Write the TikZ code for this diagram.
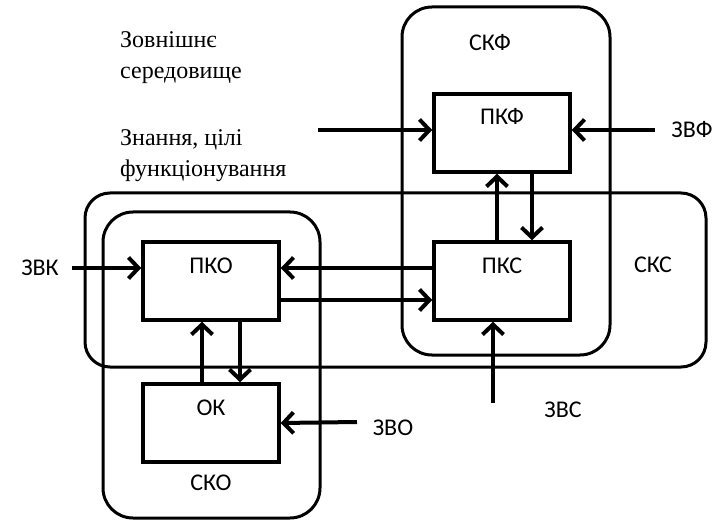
\documentclass[tikz,border=0pt]{standalone}
\usepackage{fontspec}
\setmainfont{Liberation Serif}
\newfontfamily\lblfont{Carlito}
\usetikzlibrary{arrows.meta,positioning}
\tikzset{blk/.style={draw,line width=3.5pt,minimum width=136pt,minimum height=78pt,inner sep=0pt},
  cont/.style={draw,line width=3pt,rounded corners=30pt,inner sep=0pt},
  arr/.style={line width=4pt,-{Straight Barb[length=10pt,width=21pt]}},
  lbl/.style={font=\lblfont\fontsize{24}{28}\selectfont,inner sep=0pt},
  envtxt/.style={font=\fontsize{24}{31}\selectfont,align=left,anchor=north west,inner sep=0pt}}

\begin{document}
\begin{tikzpicture}[x=1pt,y=-1pt]
\useasboundingbox (0,0) rectangle (712,521);
% containers
\node[cont,minimum width=208pt,minimum height=348pt] (skf) at (506,181) {};
\node[cont,rounded corners=25pt,minimum width=621pt,minimum height=174pt] (sks) at (395.5,280) {};
\node[cont,minimum width=217pt,minimum height=306pt] (sko) at (211.5,365) {};
% blocks
\node[blk] (pkf) at (502,133) {}; \node[blk] (pkc) at (502,281) {};
\node[blk] (pko) at (211,281) {}; \node[blk] (ok) at (211,423) {};
\node[lbl] (pkf-t) at ([yshift=-24pt]pkf.north) {ПКФ}; \node[lbl] (pkc-t) at ([yshift=-26pt]pkc.north) {ПКС};
\node[lbl] (pko-t) at ([yshift=-26pt]pko.north) {ПКО}; \node[lbl] (ok-t) at ([yshift=-26pt]ok.north) {ОК};
\node[lbl] (skf-t) at (490,43) {СКФ}; \node[lbl] (sks-t) at (653,265) {СКС}; \node[lbl] (sko-t) at (211,483) {СКО};
\node[lbl] (zvf) at (692,130) {ЗВФ}; \node[lbl] (zvk) at (40,268) {ЗВК};
\node[lbl] (zvo) at (393,428) {ЗВО}; \node[lbl] (zvs) at (563,410) {ЗВС};
\node[envtxt] (env) at (120,31) {Зовнішнє\\середовище};
\node[envtxt] (goal) at (120,129) {Знання, цілі\\функціонування};
% inputs
\coordinate (goal-e) at (318,130); \coordinate (zvf-e) at (655,130); \coordinate (zvk-e) at (72,268);
\coordinate (zvo-e) at (357,422); \coordinate (zvs-e) at (493,403);
\draw[arr] (goal-e) -- ([yshift=3pt]pkf.west); \draw[arr] (zvf-e) -- ([yshift=3pt]pkf.east);
\draw[arr] (zvk-e) -- ([yshift=13pt]pko.west); \draw[arr] (zvo-e) -- (ok.east);
\draw[arr] (zvs-e) -- ([xshift=-9pt]pkc.south);
% links
\draw[arr] ([xshift=-5pt]pkc.north) -- ([xshift=-5pt]pkf.south); \draw[arr] ([xshift=30pt]pkf.south) -- ([xshift=30pt]pkc.north);
\draw[arr] ([yshift=13pt]pkc.west) -- ([yshift=13pt]pko.east); \draw[arr] ([yshift=-19pt]pko.east) -- ([yshift=-19pt]pkc.west);
\draw[arr] ([xshift=-9pt]ok.north) -- ([xshift=-9pt]pko.south); \draw[arr] ([xshift=29pt]pko.south) -- ([xshift=29pt]ok.north);
\end{tikzpicture}
\end{document}
